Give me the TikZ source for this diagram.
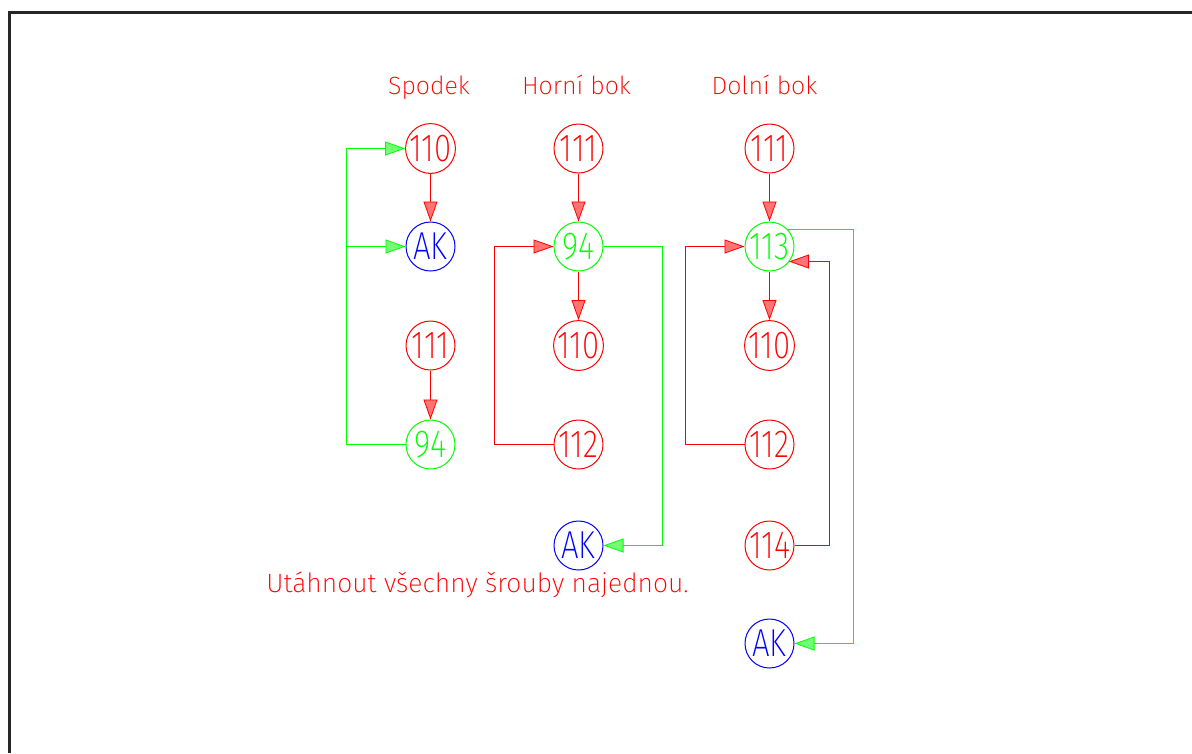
\documentclass[tikz,border=0pt]{standalone}
\usepackage{fontspec}
\usetikzlibrary{arrows.meta}
\IfFontExistsTF{Fira Sans ExtraLight}{%
  \newfontfamily\cadfont{Fira Sans ExtraLight}%
  \newfontfamily\cadnum{Fira Sans ExtraLight}[FakeStretch=0.8]%
}{%
  \IfFontExistsTF{Fira Sans Light}{%
    \newfontfamily\cadfont{Fira Sans Light}%
    \newfontfamily\cadnum{Fira Sans Light}[FakeStretch=0.8]%
  }{%
    \newfontfamily\cadfont{Fira Sans}%
    \newfontfamily\cadnum{Fira Sans}[FakeStretch=0.8]%
  }%
}
\definecolor{cadred}{RGB}{255,0,0}
\definecolor{cadgreen}{RGB}{0,255,0}
\definecolor{cadblue}{RGB}{0,0,255}
\begin{document}
\begin{tikzpicture}[x=1pt,y=-1pt,
  part/.style={circle,draw,line width=1pt,minimum size=49pt,inner sep=0pt,
    font=\cadnum\fontsize{39}{39}\selectfont},
  rpart/.style={part,draw=cadred,text=cadred},
  gpart/.style={part,draw=cadgreen,text=cadgreen},
  bpart/.style={part,draw=cadblue,text=cadblue},
  lbl/.style={text=cadred,anchor=base,inner sep=0pt,font=\cadfont\fontsize{25}{25}\selectfont},
  notelbl/.style={lbl,font=\cadfont\fontsize{26.5}{26.5}\selectfont},
  redc/.style={draw=cadred,line width=1.2pt,
    -{Triangle[length=20pt,width=14pt,fill=cadred!55,line width=0.8pt]}},
  greenc/.style={draw=cadgreen,line width=1.2pt,
    -{Triangle[length=20pt,width=14pt,fill=cadgreen!55,line width=0.8pt]}},
]
\useasboundingbox (0,0) rectangle (1192,753);
\fill[white] (0,0) rectangle (1192,753);
% frame
\draw[line width=3pt,line cap=butt,black!85] (9.5,753) -- (9.5,12) -- (1192,12);

\begin{scope}[shift={(0.5,0.5)}]
% labels
\node[lbl] (lS) at (428.5,94) {Spodek};
\node[lbl] (lH) at (576,94) {Horní bok};
\node[lbl] (lD) at (764,94) {Dolní bok};
\node[notelbl] (note) at (477,592) {Utáhnout všechny šrouby najednou.};

% column 1 : Spodek
\node[rpart] (s110) at (430,148) {110};
\node[bpart] (sAK)  at (430,246) {AK};
\node[rpart] (s111) at (430,345) {111};
\node[gpart] (s94)  at (430,444) {94};

% column 2 : Horni bok
\node[rpart] (h111) at (578,148) {111};
\node[gpart] (h94)  at (578,246) {94};
\node[rpart] (h110) at (578,345) {110};
\node[rpart] (h112) at (578,444) {112};
\node[bpart] (hAK)  at (578,545) {AK};

% column 3 : Dolni bok
\node[rpart] (d111) at (769,148) {111};
\node[gpart] (d113) at (769,246) {113};
\node[rpart] (d110) at (769,345) {110};
\node[rpart] (d112) at (769,444) {112};
\node[rpart] (d114) at (769,545) {114};
\node[bpart] (dAK)  at (769,643) {AK};

% bend points
\coordinate (g1b) at (346,444);
\coordinate (g1t) at (346,148);
\coordinate (g1m) at (346,246);
\coordinate (r2b) at (494,444);
\coordinate (r2t) at (494,246);
\coordinate (g2t) at (662,246);
\coordinate (g2b) at (662,545);
\coordinate (r3b) at (685,444);
\coordinate (r3t) at (685,246);
\coordinate (r4b) at (829,545);
\coordinate (r4t) at (829,261);
\coordinate (r4e) at (788.5,261);
\coordinate (g3b) at (853,643);
\coordinate (g3t) at (853,229);
\coordinate (g3s) at (787,229);
\end{scope}

% connectors column 1
\draw[redc] (s110) -- (sAK);
\draw[redc] (s111) -- (s94);
\draw[greenc] (s94.west) -- (g1b) -- (g1t) -- (s110.west);
\draw[greenc] (g1m) -- (sAK.west);

% connectors column 2
\draw[redc] (h111) -- (h94);
\draw[redc] (h94) -- (h110);
\draw[redc] (h112.west) -- (r2b) -- (r2t) -- (h94.west);
\draw[greenc] (h94.east) -- (g2t) -- (g2b) -- (hAK.east);

% connectors column 3
\draw[redc] (d111) -- (d113);
\draw[redc] (d113) -- (d110);
\draw[redc] (d112.west) -- (r3b) -- (r3t) -- (d113.west);
\draw[redc] (d114.east) -- (r4b) -- (r4t) -- (r4e);
\draw[greenc] (g3s) -- (g3t) -- (g3b) -- (dAK.east);
\end{tikzpicture}
\end{document}
